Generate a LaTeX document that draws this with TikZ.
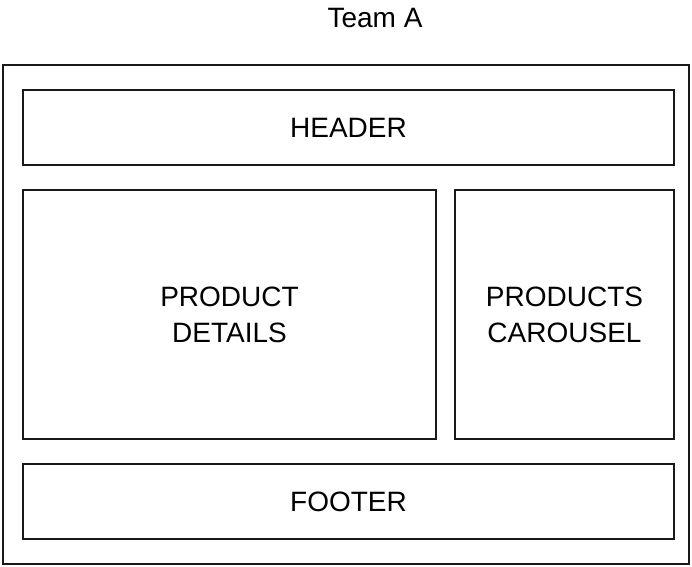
\documentclass[tikz,border=0pt]{standalone}
\usepackage{fontspec}
\setmainfont{Liberation Sans}
\usepackage{tikz}

\tikzset{
    panel/.style={draw=black!90, line width=1.6pt, rectangle, inner sep=0pt, align=center,
        font=\fontsize{21}{27}\selectfont},
}

\begin{document}
\begin{tikzpicture}[x=0.75pt, y=-0.75pt]
    \useasboundingbox (0,0) rectangle (692,567);
    \node (title) at (375,18) {\fontsize{21}{24}\selectfont Team A};
    \node[panel, minimum width=514.5pt, minimum height=374.25pt] (page) at (346,314.5) {};
    \node[panel, minimum width=488.25pt, minimum height=56.25pt] (header) at (348.5,127.5) {HEADER};
    \node[panel, minimum width=309.75pt, minimum height=186.75pt] (details) at (229.5,314.5) {PRODUCT\\DETAILS};
    \node[panel, minimum width=164.25pt, minimum height=186.75pt] (carousel) at (564.5,314.5) {PRODUCTS\\CAROUSEL};
    \node[panel, minimum width=488.25pt, minimum height=56.25pt] (footer) at (348.5,501.5) {FOOTER};
\end{tikzpicture}
\end{document}
